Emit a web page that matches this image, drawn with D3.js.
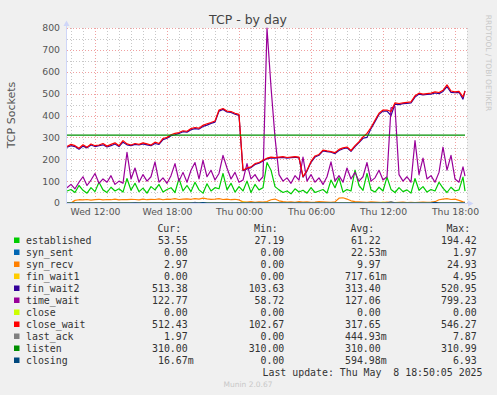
<!DOCTYPE html>
<html><head><meta charset="utf-8">
<script src="https://cdn.jsdelivr.net/npm/d3@7"></script>
<style>
html,body{margin:0;padding:0;background:#F0F0F0;}
svg{display:block;}
</style></head>
<body>
<svg id="chart" width="497" height="395"></svg>
<script>
// ---------- data (20-minute samples, Wed 09:40 -> Thu 18:50) ----------
const established = [55,62,48,80,58,45,70,52,95,60,
  48,72,55,65,50,112,58,90,52,68,
  45,75,60,85,50,62,70,48,112,55,
  80,52,95,60,45,88,55,70,65,135,
  60,90,50,75,55,100,48,85,60,70,
  185,150,75,60,48,55,42,65,50,58,
  45,70,48,55,62,45,105,70,115,50,
  62,55,150,80,58,135,60,50,72,55,
  118,62,48,70,52,60,45,112,58,75,
  50,62,55,95,68,48,72,55,60,118,54];
const syn_sent = [0,0,0,0,0,0,0,0,0,0, 0,0,0,0,0,0,0,0,0,0, 0,0,0,0,0,0,1,0,0,0, 0,0,0,0,0,0,0,0,0,0,
  0,0,0,0,0,0,0,0,0,0, 0,0,0,0,0,0,0,0,0,0, 0,0,0,0,0,0,0,0,0,0, 0,0,0,0,0,0,0,0,2,0,
  0,0,0,0,0,0,0,0,0,0, 0,0,0,0,0,0,0,0,0,0,0];
const syn_recv = [0,0,12,15,14,16,13,15,17,14,
  16,15,18,14,16,15,17,16,14,18,
  15,17,16,19,15,18,17,20,16,18,
  19,17,20,18,22,19,17,18,20,16,
  18,15,17,14,5,4,6,3,5,4,
  7,15,18,10,6,4,5,3,6,4,
  5,3,4,6,5,4,3,5,22,24,
  18,10,6,5,4,3,5,4,3,2,
  4,3,2,3,4,2,3,2,3,4,
  3,4,6,15,18,20,16,18,12,5,3];
const fin_wait1 = [0,0,0,0,0,0,0,0,0,0, 0,0,0,0,0,0,0,0,0,0, 0,0,0,0,0,0,0,0,0,0, 0,0,0,0,0,0,0,0,0,0,
  0,0,0,0,5,2,0,0,0,0, 3,0,0,0,0,0,0,0,0,0, 0,0,0,0,0,0,0,0,0,0, 0,0,0,0,0,0,0,0,0,4,
  0,3,0,0,0,0,0,0,0,0, 0,0,0,0,0,0,0,0,0,0,0];
const fin_wait2 = [255,262,258,246,260,252,265,258,262,266,
  256,262,270,258,278,266,262,268,265,270,
  266,262,272,268,290,296,308,312,318,326,
  324,335,340,338,350,356,364,370,420,428,
  416,414,406,400,148,156,162,176,182,192,
  202,206,205,207,208,205,207,209,206,118,
  146,186,210,218,238,235,232,226,240,248,
  252,236,258,276,296,300,340,372,405,420,
  420,400,452,450,454,455,458,484,498,494,
  496,498,503,500,510,532,506,504,506,475,513];
const time_wait = [70,85,65,95,120,80,105,135,90,110,
  95,125,85,100,90,232,110,160,95,130,
  100,120,188,95,115,90,125,180,100,140,
  95,150,185,110,195,120,150,105,135,218,
  160,110,140,95,105,180,110,130,100,120,
  799,530,300,130,100,115,90,125,105,210,
  100,130,95,115,85,120,188,100,125,95,
  160,110,140,100,120,185,100,115,150,105,
  120,435,440,130,100,120,95,285,130,205,
  110,125,95,140,255,150,218,110,95,165,123];
const closeS = [0,0,0,0,0,0,0,0,0,0, 0,0,0,0,0,0,0,0,0,0, 0,0,0,0,0,0,0,0,0,0, 0,0,0,0,0,0,0,0,0,0,
  0,0,0,0,0,0,0,0,0,0, 0,0,0,0,0,0,0,0,0,0, 0,0,0,0,0,0,0,0,0,0, 0,0,0,0,0,0,0,0,0,0,
  0,0,0,0,0,0,0,0,0,0, 0,0,0,0,0,0,0,0,0,0,0];
const close_wait = [258,268,262,250,266,255,270,262,265,272,
  260,268,275,262,285,270,265,272,268,275,
  270,265,278,272,295,300,312,318,322,330,
  328,340,345,342,355,362,368,375,425,432,
  420,418,410,405,150,160,165,180,185,195,
  205,210,208,210,212,208,210,212,210,120,
  150,190,215,222,242,238,235,230,245,252,
  256,240,262,280,302,318,345,378,410,425,
  425,418,458,455,458,460,462,490,502,498,
  500,502,508,505,515,540,512,508,510,485,512];
const last_ack = [0,0,0,0,1,0,0,0,0,0, 0,0,0,0,0,0,0,2,0,0, 0,0,0,0,0,0,0,0,0,0, 0,0,3,0,0,0,0,0,0,0,
  0,0,0,0,0,0,0,0,0,0, 0,0,0,0,0,0,0,0,0,0, 0,0,0,0,0,0,0,0,0,0, 0,0,0,0,0,0,0,0,0,0,
  0,6,0,0,0,0,0,0,0,0, 0,0,0,0,0,0,0,0,0,0,2];
const listen = [310,310,310,310,310,310,310,310,310,310, 310,310,310,310,310,310,310,310,310,310,
  310,310,310,310,310,310,310,310,310,310, 310,310,310,310,310,310,310,310,310,310,
  310,310,310,310,310,310,310,310,310,310, 310,310,310,310,310,310,310,310,310,310,
  310,310,310,310,310,310,310,310,310,310, 310,310,310,310,310,310,310,310,310,310,
  310,310,310,310,310,310,310,310,310,310, 310,310,310,310,310,310,310,310,310,310,310];
const closing = [0,0,0,0,0,0,0,0,0,0, 0,0,0,0,0,0,0,0,0,0, 0,0,0,0,0,0,0,0,0,0, 0,0,0,0,2,0,0,0,0,0,
  0,0,0,0,0,0,0,0,0,0, 0,0,0,0,0,0,0,0,0,0, 0,0,0,0,0,0,0,0,0,0, 0,0,0,0,0,0,0,0,0,0,
  0,0,0,0,0,0,0,0,0,0, 0,0,3,0,0,0,0,0,0,0,0];

const seriesNames = ["established","syn_sent","syn_recv","fin_wait1","fin_wait2","time_wait","close","close_wait","last_ack","listen","closing"];
const seriesColors = ["#00CC00","#0066B3","#FF8000","#FFCC00","#330099","#990099","#CCFF00","#FF0000","#808080","#008F00","#00487D"];
const seriesValues = [established,syn_sent,syn_recv,fin_wait1,fin_wait2,time_wait,closeS,close_wait,last_ack,listen,closing];

const curVals = ["53.55","0.00","2.97","0.00","513.38","122.77","0.00","512.43","1.97","310.00","16.67m"];
const minVals = ["27.19","0.00","0.00","0.00","103.63","58.72","0.00","102.67","0.00","310.00","0.00"];
const avgVals = ["61.22","22.53m","9.97","717.61m","313.40","127.06","0.00","317.65","444.93m","310.00","594.98m"];
const maxVals = ["194.42","1.97","24.93","4.95","520.95","799.23","0.00","546.27","7.87","310.99","6.93"];

const yTicks = [0,100,200,300,400,500,600,700,800];
const titleText = "TCP - by day";
const yLabel = "TCP Sockets";
const lastUpdate = "Last update: Thu May  8 18:50:05 2025";

// ---------- scales ----------
const tStart = new Date(2025,4,7,9,40);
const tEnd = new Date(2025,4,8,19,0);
const tLast = new Date(2025,4,8,18,50,5);
const times = established.map((d,i)=> i < established.length-1 ? new Date(+tStart + i*20*60000) : tLast);

const L = 67, R = 467, T = 28, B = 203;
const x = d3.scaleTime().domain([tStart,tEnd]).range([L,R]);
const y = d3.scaleLinear().domain([0,800]).range([B,T]);

const svg = d3.select("#chart");
svg.append("rect").attr("width",497).attr("height",395).attr("fill","#F0F0F0");
svg.append("rect").attr("x",L).attr("y",T).attr("width",R-L).attr("height",B-T).attr("fill","#FFFFFF");

// grid
const g = svg.append("g").attr("shape-rendering","crispEdges");
x.ticks(d3.timeHour.every(1)).forEach(t=>{
  const major = t.getHours()%6===0;
  g.append("line").attr("x1",Math.round(x(t))+0.5).attr("x2",Math.round(x(t))+0.5)
   .attr("y1",T).attr("y2",B).attr("stroke", major ? "#F0A0A0" : "#C8C8C8")
   .attr("stroke-dasharray","1,2");
});
y.ticks(16).forEach(v=>{
  if (v===0) return;
  const major = v%100===0;
  g.append("line").attr("x1",L).attr("x2",R).attr("y1",Math.round(y(v))+0.5).attr("y2",Math.round(y(v))+0.5)
   .attr("stroke", major ? "#F0A0A0" : "#C8C8C8").attr("stroke-dasharray","1,2");
});

// series lines
const line = d3.line().x((d,i)=>x(times[i])).y(d=>y(d));
seriesValues.forEach((vals,si)=>{
  svg.append("path").datum(vals).attr("d",line).attr("fill","none")
    .attr("stroke",seriesColors[si]).attr("stroke-width",1.2).attr("stroke-linejoin","round");
});

// axes lines + arrows
svg.append("line").attr("x1",L-0.5).attr("x2",L-0.5).attr("y1",B).attr("y2",24).attr("stroke","#CFD6F8");
svg.append("line").attr("x1",L-1).attr("x2",470).attr("y1",B+0.5).attr("y2",B+0.5).attr("stroke","#CFD6F8");
svg.append("path").attr("d",`M${L-3.5},${26} L${L-0.5},${20.5} L${L+2.5},${26} Z`).attr("fill","#CFD6F8");
svg.append("path").attr("d",`M${468},${B-2.5} L${473.5},${B+0.5} L${468},${B+3.5} Z`).attr("fill","#CFD6F8");

// tick labels via axes
const xAxis = d3.axisBottom(x).ticks(d3.timeHour.every(6)).tickSize(0).tickPadding(5.5)
  .tickFormat(d3.timeFormat("%a %H:%M"));
const xa = svg.append("g").attr("transform",`translate(0,${B})`).call(xAxis);
xa.select(".domain").remove();
xa.selectAll("text").attr("font-family","DejaVu Sans").attr("font-size","9.3px").attr("fill","#555");

const yAxis = d3.axisLeft(y).tickValues(yTicks).tickSize(0).tickPadding(7);
const ya = svg.append("g").attr("transform",`translate(${L},0)`).call(yAxis);
ya.select(".domain").remove();
ya.selectAll("text").attr("font-family","DejaVu Sans").attr("font-size","9.3px").attr("fill","#555");

// title & labels
svg.append("text").attr("x",248).attr("y",24).attr("text-anchor","middle")
  .attr("font-family","DejaVu Sans").attr("font-size","12.5px").attr("fill","#444").text(titleText);
svg.append("text").attr("transform","translate(15,115) rotate(-90)").attr("text-anchor","middle")
  .attr("font-family","DejaVu Sans").attr("font-size","11px").attr("fill","#555").text(yLabel);
svg.append("text").attr("transform","translate(485.5,63) rotate(90)").attr("text-anchor","middle")
  .attr("font-family","DejaVu Sans").attr("font-size","7.5px").attr("fill","#C8C8C8").text("RRDTOOL / TOBI OETIKER");

// legend
const mono = "DejaVu Sans Mono";
const lg = svg.append("g").attr("font-family",mono).attr("font-size","9.9px").attr("fill","#333");
const colEnds = [187.7,284.3,380.7,476.7];
["Cur:","Min:","Avg:","Max:"].forEach((h,i)=>{
  lg.append("text").attr("x",colEnds[i]-6.5).attr("y",231.5).attr("text-anchor","end").text(h);
});
const cols = [curVals,minVals,avgVals,maxVals];
seriesNames.forEach((n,i)=>{
  const yy = 243.5 + i*12;
  svg.append("rect").attr("x",14).attr("y",yy-6).attr("width",5.5).attr("height",5.5).attr("fill",seriesColors[i]);
  lg.append("text").attr("x",26).attr("y",yy).text(n);
  cols.forEach((arr,ci)=>{
    const s = arr[i];
    const suf = s.endsWith("m") ? "m" : "";
    const num = suf ? s.slice(0,-1) : s;
    lg.append("text").attr("x",colEnds[ci]).attr("y",yy).attr("text-anchor","end").text(num);
    if (suf) lg.append("text").attr("x",colEnds[ci]).attr("y",yy).text(suf);
  });
});
lg.append("text").attr("x",482.5).attr("y",375.5).attr("text-anchor","end")
  .attr("xml:space","preserve").style("white-space","pre").text(lastUpdate);
svg.append("text").attr("x",248).attr("y",387).attr("text-anchor","middle")
  .attr("font-family","DejaVu Sans").attr("font-size","7.5px").attr("fill","#C8C8C8").text("Munin 2.0.67");
</script>
</body></html>
